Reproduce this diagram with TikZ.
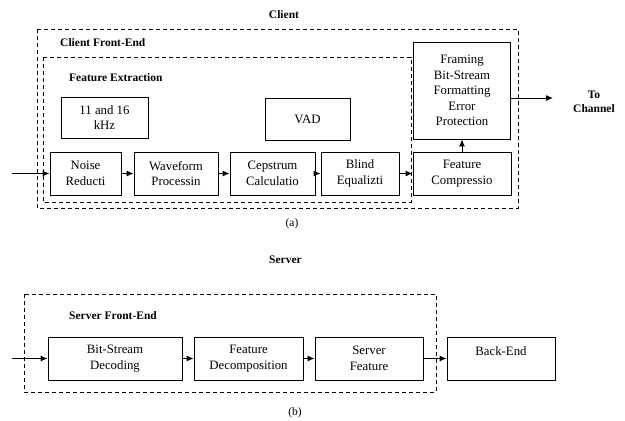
\documentclass[tikz,border=0pt]{standalone}
\usepackage{fontspec}
\setmainfont{Liberation Serif}
\usetikzlibrary{arrows.meta,calc}

\begin{document}
\begin{tikzpicture}[x=1pt,y=-1pt,
  blk/.style={draw,line width=.9pt,align=center,inner sep=0pt,font=\fontsize{12.8}{15.5}\selectfont},
  frm/.style={draw,line width=.8pt,dash pattern=on 4pt off 3pt},
  lbl/.style={font=\fontsize{11.5}{14}\selectfont\bfseries,inner sep=0pt,align=center},
  sublbl/.style={font=\fontsize{11.5}{13}\selectfont,inner sep=0pt},
  arr/.style={-{Latex[length=7pt,width=6pt]},line width=1pt}]
\useasboundingbox (0,0) rectangle (625,421);

% (a) client
\node[lbl] (Cl) at (284,15) {Client};
\draw[frm] (37,29) rectangle (518,208);
\draw[frm] (43,57) rectangle (411,202);
\node[lbl,anchor=west] (CFE) at (60,43) {Client Front-End};
\node[lbl,anchor=west] (FE) at (69,78) {Feature Extraction};

\node[blk,minimum width=87pt,minimum height=41pt] (KHZ) at (104.5,117.5) {11 and 16\\kHz};
\node[blk,minimum width=85pt,minimum height=42pt] (VAD) at (307.5,119) {VAD};

\node[blk,minimum width=71pt,minimum height=43pt] (NR) at (85.5,173.5) {Noise\\Reducti};
\node[blk,minimum width=84pt,minimum height=43pt] (WP) at (176,173.5) {Waveform\\Processin};
\node[blk,minimum width=85pt,minimum height=43pt] (CC) at (272.5,173.5) {Cepstrum\\Calculatio};
\node[blk,minimum width=78pt,minimum height=43pt] (BEq) at (360,173.5) {Blind\\Equalizti};
\node[blk,minimum width=98pt,minimum height=43pt] (FC) at (462,173.5) {Feature\\Compressio};
\node[blk,minimum width=97pt,minimum height=97pt] (Fr) at (462,90.5)
  {Framing\\Bit-Stream\\Formatting\\Error\\Protection};
\node[lbl] (TC) at (594,102) {To\\Channel};

\coordinate (In1) at (12,173.5);
\coordinate (Out) at (553,98);

\draw[arr] (In1) -- (NR.west);
\draw[arr] (NR) -- (WP);
\draw[arr] (WP) -- (CC);
\draw[arr] (CC) -- (BEq);
\draw[arr] (BEq) -- (FC);
\draw[arr] (FC) -- (Fr);
\draw[arr] (Fr.east |- Out) -- (Out);

\node[sublbl] (A) at (292,224) {(a)};

% (b) server
\node[lbl] (Sv) at (285.5,260) {Server};
\draw[frm] (24,294) rectangle (436,392);
\node[lbl,anchor=west] (SFE) at (69,316) {Server Front-End};

\node[blk,minimum width=134pt,minimum height=43pt] (BSD) at (115,358.5) {Bit-Stream\\Decoding};
\node[blk,minimum width=109pt,minimum height=43pt] (FD) at (248.5,358.5) {Feature\\Decomposition};
\node[blk,minimum width=108pt,minimum height=43pt] (SF) at (369,358.5) {Server\\Feature};
\node[blk,minimum width=108pt,minimum height=43pt] (BE) at (501,358.5) {Back-End\\\mbox{}};

\coordinate (In2) at (12,358.5);

\draw[arr] (In2) -- (BSD.west);
\draw[arr] (BSD) -- (FD);
\draw[arr] (FD) -- (SF);
\draw[arr] (SF) -- (BE);

\node[sublbl] (B) at (295,413) {(b)};
\end{tikzpicture}
\end{document}
